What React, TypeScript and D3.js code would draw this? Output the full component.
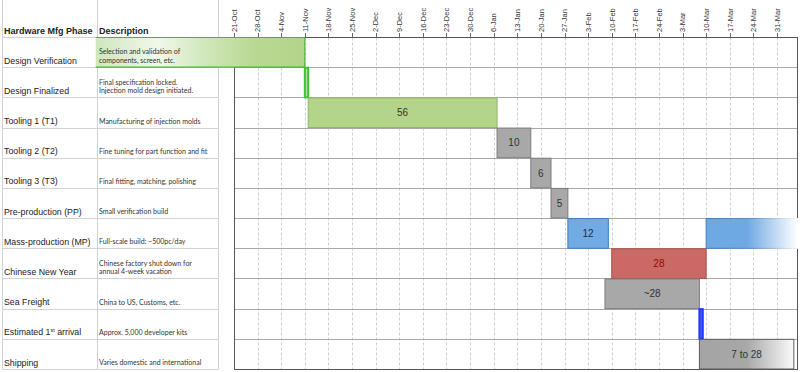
import React from "react";
import * as d3 from "d3";

const phases = [
  "Design Verification",
  "Design Finalized",
  "Tooling 1 (T1)",
  "Tooling 2 (T2)",
  "Tooling 3 (T3)",
  "Pre-production (PP)",
  "Mass-production (MP)",
  "Chinese New Year",
  "Sea Freight",
  "Estimated 1st arrival",
  "Shipping",
];

const descriptions = [
  ["Selection and validation of", "components, screen, etc."],
  ["Final specification locked.", "Injection mold design initiated."],
  ["Manufacturing of injection molds"],
  ["Fine tuning for part function and fit"],
  ["Final fitting, matching, polishing"],
  ["Small verification build"],
  ["Full-scale build: ~500pc/day"],
  ["Chinese factory shut down for", "annual 4-week vacation"],
  ["China to US, Customs, etc."],
  ["Approx. 5,000 developer kits"],
  ["Varies domestic and international"],
];

const tickLabels = [
  "21-Oct", "28-Oct", "4-Nov", "11-Nov", "18-Nov", "25-Nov", "2-Dec", "9-Dec",
  "16-Dec", "23-Dec", "30-Dec", "6-Jan", "13-Jan", "20-Jan", "27-Jan", "3-Feb",
  "10-Feb", "17-Feb", "24-Feb", "3-Mar", "10-Mar", "17-Mar", "24-Mar", "31-Mar",
];

const barPhases = [
  "Design Verification",
  "Design Finalized",
  "Tooling 1 (T1)",
  "Tooling 2 (T2)",
  "Tooling 3 (T3)",
  "Pre-production (PP)",
  "Mass-production (MP)",
  "Mass-production (MP)",
  "Chinese New Year",
  "Sea Freight",
  "Estimated 1st arrival",
  "Shipping",
];
const barStarts = [
  "2013-09-10", "2013-11-11", "2013-11-12", "2014-01-07", "2014-01-17", "2014-01-23",
  "2014-01-28", "2014-03-10", "2014-02-10", "2014-02-08", "2014-03-08", "2014-03-08",
];
const barDays = [62, 1, 56, 10, 6, 5, 12, 28, 28, 28, 1, 28];
const barLabels = ["", "", "56", "10", "6", "5", "12", "", "28", "~28", "", "7 to 28"];
const barKinds = [
  "fadeGreen", "markGreen", "green", "gray", "gray", "gray",
  "blue", "fadeBlue", "red", "gray", "markBlue", "fadeGray",
];

const W = 800;
const H = 372;

const styles: Record<string, any> = {
  fadeGreen: { fill: "url(#gDV)", stroke: "none", sw: 0, text: "#333" },
  markGreen: { fill: "#b9da92", stroke: "#3cc23c", sw: 2, text: "#333" },
  green: { fill: "#b3d58a", stroke: "#8db565", sw: 1, text: "#333" },
  gray: { fill: "#a8a8a8", stroke: "#7c7c7c", sw: 1, text: "#333" },
  blue: { fill: "#72abe4", stroke: "#3c7cc2", sw: 1, text: "#1c2b4a" },
  fadeBlue: { fill: "url(#gMP)", stroke: "url(#gMPs)", sw: 1, text: "#333" },
  red: { fill: "#cb6966", stroke: "#ae4f4c", sw: 1, text: "#8e0b0b" },
  markBlue: { fill: "#4565ee", stroke: "#1f38ff", sw: 2, text: "#333" },
  fadeGray: { fill: "url(#gSH)", stroke: "#5c5c5c", sw: 1, text: "#333" },
};

export default function App() {
  const parseIso = d3.utcParse("%Y-%m-%d");
  const parseTick = d3.utcParse("%d-%b-%Y");
  const x = d3
    .scaleUtc()
    .domain([new Date(Date.UTC(2013, 9, 21)), new Date(Date.UTC(2014, 3, 6))])
    .range([234, 797.2]);
  const y = d3.scaleBand<string>().domain(phases).range([37, 369]).padding(0);
  const bw = y.bandwidth();
  const plotL = 234.5, plotR = 797.5, plotT = 37.5, plotB = 369.5;
  const tickDates = tickLabels.map((t) => {
    const mon = t.split("-")[1];
    const yr = ["Oct", "Nov", "Dec"].includes(mon) ? 2013 : 2014;
    return parseTick(`${t}-${yr}`) as Date;
  });
  const rowEdges = phases.map((p) => y(p) as number).concat([369]);
  const sans = "'Liberation Sans', Arial, sans-serif";
  const descFont = "Lato, 'Open Sans', sans-serif";

  return (
    <svg
      width={W}
      height={H}
      style={{ position: "absolute", left: 0, top: 0, background: "#fff" }}
      fontFamily={sans}
    >
      <defs>
        <linearGradient id="gDV" x1="0" x2="1" y1="0" y2="0">
          <stop offset="0" stopColor="#cfe6bc" />
          <stop offset="0.3" stopColor="#f1f8eb" />
          <stop offset="0.5" stopColor="#d3e8bf" />
          <stop offset="0.75" stopColor="#b9d993" />
          <stop offset="1" stopColor="#b2d488" />
        </linearGradient>
        <linearGradient id="gMP" x1="0" x2="1" y1="0" y2="0">
          <stop offset="0" stopColor="#6fa9e3" />
          <stop offset="0.45" stopColor="#6fa9e3" />
          <stop offset="1" stopColor="#ffffff" />
        </linearGradient>
        <linearGradient id="gMPs" x1="0" x2="1" y1="0" y2="0">
          <stop offset="0" stopColor="#3c7cc2" />
          <stop offset="0.5" stopColor="#5a90cc" />
          <stop offset="1" stopColor="#ffffff" />
        </linearGradient>
        <linearGradient id="gSH" x1="0" x2="1" y1="0" y2="0">
          <stop offset="0" stopColor="#a4a4a4" />
          <stop offset="0.5" stopColor="#a8a8a8" />
          <stop offset="1" stopColor="#fafafa" />
        </linearGradient>
      </defs>
      <rect x={0} y={0} width={W} height={H} fill="#fff" />

      {/* left table grid */}
      <g stroke="#d2d2d2" strokeWidth={1}>
        {[2.5, 97.5, 218.5].map((cx) => (
          <line key={cx} x1={cx} x2={cx} y1={0} y2={369.5} />
        ))}
        {rowEdges.map((ry, i) => (
          <line key={i} x1={2.5} x2={218.5} y1={Math.round(ry) + 0.5} y2={Math.round(ry) + 0.5} />
        ))}
      </g>

      {/* header labels */}
      <text x={4} y={34} fontSize={9} fontWeight="bold" fill="#222">
        Hardware Mfg Phase
      </text>
      <text x={99} y={34} fontSize={9} fontWeight="bold" fill="#222">
        Description
      </text>

      {/* plot grid */}
      <g>
        {tickDates.map((d, i) => {
          const tx = Math.round(x(d)) + 0.5;
          return (
            <g key={i}>
              {i > 0 && (
                <line x1={tx} x2={tx} y1={plotT} y2={plotB} stroke="#cfcfcf" strokeDasharray="3,2" />
              )}
              <line x1={tx} x2={tx} y1={33} y2={37} stroke="#666" />
              <text
                transform={`translate(${x(d) + 2.8},32) rotate(-90)`}
                textAnchor="start"
                fontSize={7.5}
                fill="#333"
              >
                {tickLabels[i]}
              </text>
            </g>
          );
        })}
        {rowEdges.slice(1, -1).map((ry, i) => (
          <line
            key={i}
            x1={plotL}
            x2={plotR}
            y1={Math.round(ry) + 0.5}
            y2={Math.round(ry) + 0.5}
            stroke="#a8a8a8"
          />
        ))}
        <rect
          x={plotL}
          y={plotT}
          width={plotR - plotL}
          height={plotB - plotT}
          fill="none"
          stroke="#555"
        />
      </g>

      {/* bars */}
      {barPhases.map((p, i) => {
        const s = styles[barKinds[i]];
        const start = parseIso(barStarts[i]) as Date;
        const end = d3.utcDay.offset(start, barDays[i]);
        const x0 = x(start);
        const x1 = Math.min(x(end), plotR);
        const y0 = (y(p) as number) + 0.5;
        const h = bw - 0.5;
        return (
          <g key={i}>
            <rect
              x={x0}
              y={y0}
              width={x1 - x0}
              height={h}
              fill={s.fill}
              stroke={s.stroke}
              strokeWidth={s.sw}
            />
            {barKinds[i] === "fadeGreen" && (
              <g stroke="#45b535" strokeWidth={1.2} fill="none">
                <line x1={x0} x2={x1} y1={y0} y2={y0} />
                <line x1={x0} x2={x1} y1={y0 + h} y2={y0 + h} />
                <line x1={x1} x2={x1} y1={y0} y2={y0 + h} />
              </g>
            )}
            {barLabels[i] && (
              <text
                x={(x0 + x1) / 2}
                y={y0 + h / 2 + 3.5}
                textAnchor="middle"
                fontSize={10}
                fill={s.text}
              >
                {barLabels[i]}
              </text>
            )}
          </g>
        );
      })}

      {/* row labels and descriptions */}
      {phases.map((p, i) => {
        const bottom = (y(p) as number) + bw;
        const lines = descriptions[i];
        const isArrival = p === "Estimated 1st arrival";
        return (
          <g key={p}>
            <text x={4} y={bottom - 3.5} fontSize={8.8} fill="#222">
              {isArrival ? (
                <>
                  Estimated 1
                  <tspan fontSize={5.5} dy={-3.5}>st</tspan>
                  <tspan dy={3.5}> arrival</tspan>
                </>
              ) : (
                p
              )}
            </text>
            {lines.map((ln, j) => (
              <text
                key={j}
                x={99}
                y={bottom - 4 - (lines.length - 1 - j) * 8.7}
                fontSize={7}
                fontFamily={descFont}
                fill="#333"
              >
                {ln}
              </text>
            ))}
          </g>
        );
      })}
    </svg>
  );
}
